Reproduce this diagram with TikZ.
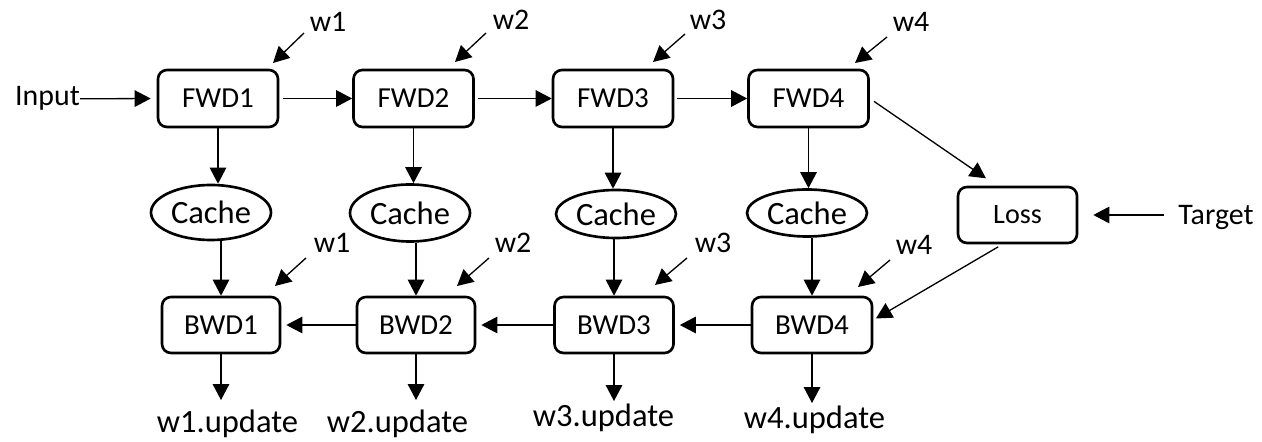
\documentclass[tikz,border=0pt]{standalone}
\usepackage{fontspec}
\setmainfont{Carlito}
\usepackage{tikz}
\usetikzlibrary{arrows.meta}
\usetikzlibrary{shapes.geometric}

\begin{document}
\begin{tikzpicture}[
block/.style={draw, rounded corners=0.18cm, line width=1.5pt, minimum width=2.4cm,
  minimum height=1.14cm, inner sep=0pt, font=\fontsize{16.5}{18}\selectfont},
cache/.style={draw, ellipse, line width=1.5pt, minimum width=2.4cm,
  minimum height=1.1cm, inner sep=0pt, font=\fontsize{18.5}{20}\selectfont},
lbl/.style={inner sep=0pt, anchor=base, font=\fontsize{17}{19}\selectfont},
upd/.style={inner sep=0pt, anchor=base, font=\fontsize{18.5}{20}\selectfont},
arr/.style={-{Triangle[length=0.32cm,width=0.33cm]}, line width=0.75pt}
]
\useasboundingbox (0,0) rectangle (25.24,8.84);
% draws blocks
\node[block] (fwd1) at (4.36,6.87) {FWD1};
\node[block] (fwd2) at (8.27,6.87) {FWD2};
\node[block] (fwd3) at (12.26,6.87) {FWD3};
\node[block] (fwd4) at (16.17,6.87) {FWD4};
\node[block, minimum width=2.38cm, minimum height=1.12cm,
  font=\fontsize{16}{18}\selectfont] (loss) at (20.35,4.54) {Loss};
\node[block, minimum width=2.36cm, minimum height=1.12cm] (bwd1) at (4.42,2.34) {BWD1};
\node[block, minimum width=2.36cm, minimum height=1.12cm] (bwd2) at (8.32,2.34) {BWD2};
\node[block, minimum width=2.38cm, minimum height=1.12cm] (bwd3) at (12.28,2.34) {BWD3};
\node[block, minimum width=2.4cm, minimum height=1.12cm] (bwd4) at (16.24,2.34) {BWD4};
% draws caches
\node[cache] (cache1) at (4.22,4.59) {Cache};
\node[cache, minimum height=1.14cm] (cache2) at (8.20,4.58) {Cache};
\node[cache, minimum height=0.96cm] (cache3) at (12.32,4.56) {Cache};
\node[cache, minimum height=0.94cm] (cache4) at (16.14,4.58) {Cache};
% labels
\node[lbl] (input) at (0.95,6.72) {Input};
\node[lbl] (target) at (24.32,4.34) {Target};
\node[lbl] (wf1) at (6.56,8.20) {w1};
\node[lbl] (wf2) at (10.22,8.24) {w2};
\node[lbl] (wf3) at (14.16,8.24) {w3};
\node[lbl] (wf4) at (18.22,8.20) {w4};
\node[lbl] (wb1) at (6.64,3.78) {w1};
\node[lbl] (wb2) at (10.26,3.78) {w2};
\node[lbl] (wb3) at (14.26,3.78) {w3};
\node[lbl] (wb4) at (18.28,3.74) {w4};
\node[upd] (upd1) at (4.55,0.18) {w1.update};
\node[upd] (upd2) at (7.95,0.18) {w2.update};
\node[upd] (upd3) at (12.07,0.30) {w3.update};
\node[upd] (upd4) at (16.29,0.26) {w4.update};
% ends of the weight arrows
\coordinate (wf1s) at (6.08,8.18); \coordinate (wf1t) at (5.46,7.58);
\coordinate (wf2s) at (9.72,8.18); \coordinate (wf2t) at (9.10,7.60);
\coordinate (wf3s) at (13.70,8.16); \coordinate (wf3t) at (13.06,7.60);
\coordinate (wf4s) at (17.74,8.10); \coordinate (wf4t) at (17.10,7.58);
\coordinate (wb1s) at (6.12,3.68); \coordinate (wb1t) at (5.50,3.12);
\coordinate (wb2s) at (9.78,3.68); \coordinate (wb2t) at (9.14,3.12);
\coordinate (wb3s) at (13.74,3.68); \coordinate (wb3t) at (13.10,3.14);
\coordinate (wb4s) at (17.80,3.64); \coordinate (wb4t) at (17.16,3.10);
\begin{scope}[arr]
% draws forward edges
\draw[shorten >=0.12cm] (input.east) -- (fwd1.west);
\draw[shorten <=0.08cm] (fwd1.east) -- (fwd2.west);
\draw[shorten <=0.06cm] (fwd2.east) -- (fwd3.west);
\draw[shorten <=0.06cm] (fwd3.east) -- (fwd4.west);
\draw[shorten <=0.1cm, shorten >=0.26cm] (fwd4.east) -- ([xshift=0.8cm]loss.north west);
\draw[shorten <=0.28cm, shorten >=0.3cm] (target.west |- loss.east) -- (loss.east);
% draws cache edges
\draw (fwd1.south) -- (fwd1.south |- cache1.north);
\draw (fwd2.south) -- (fwd2.south |- cache2.north);
\draw (fwd3.south) -- (fwd3.south |- cache3.north);
\draw (fwd4.south) -- (fwd4.south |- cache4.north);
\draw (bwd1.north |- cache1.south) -- (bwd1.north);
\draw (bwd2.north |- cache2.south) -- (bwd2.north);
\draw (bwd3.north |- cache3.south) -- (bwd3.north);
\draw (bwd4.north |- cache4.south) -- (bwd4.north);
% draws backward edges
\draw[shorten <=0.1cm, shorten >=0.06cm] ([xshift=-0.3cm]loss.south) -- ([yshift=0.1cm]bwd4.east);
\draw[shorten >=0.1cm] (bwd4.west) -- (bwd3.east);
\draw[shorten >=0.1cm] (bwd3.west) -- (bwd2.east);
\draw[shorten >=0.1cm] (bwd2.west) -- (bwd1.east);
\draw[shorten >=0.2cm] (bwd1.south) -- (bwd1.south |- upd1.north);
\draw[shorten >=0.2cm] (bwd2.south) -- (bwd2.south |- upd2.north);
\draw[shorten >=0.06cm] (bwd3.south) -- (bwd3.south |- upd3.north);
\draw[shorten >=0.06cm] (bwd4.south) -- (bwd4.south |- upd4.north);
% draws weight edges
\draw (wf1s) -- (wf1t);
\draw (wf2s) -- (wf2t);
\draw (wf3s) -- (wf3t);
\draw (wf4s) -- (wf4t);
\draw (wb1s) -- (wb1t);
\draw (wb2s) -- (wb2t);
\draw (wb3s) -- (wb3t);
\draw (wb4s) -- (wb4t);
\end{scope}
\end{tikzpicture}
\end{document}
